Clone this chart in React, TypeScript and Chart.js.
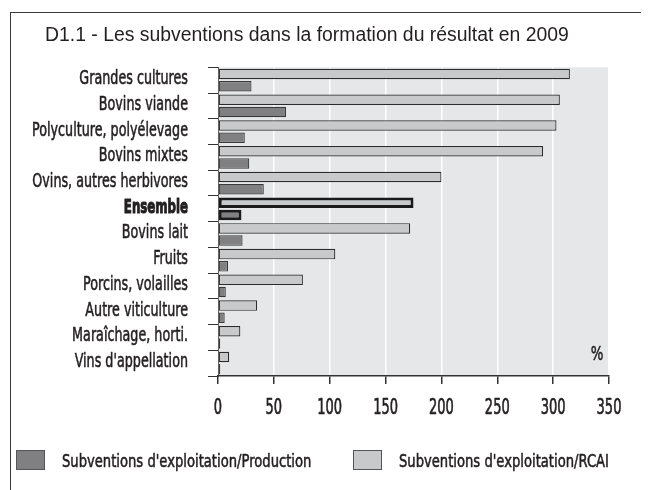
import React, { useEffect, useRef } from "react";
import { Chart, registerables } from "chart.js";

Chart.register(...registerables);

const TITLE = "D1.1 - Les subventions dans la formation du résultat en 2009";
const categories = [
  "Grandes cultures",
  "Bovins viande",
  "Polyculture, polyélevage",
  "Bovins mixtes",
  "Ovins, autres herbivores",
  "Ensemble",
  "Bovins lait",
  "Fruits",
  "Porcins, volailles",
  "Autre viticulture",
  "Maraîchage, horti.",
  "Vins d'appellation",
];
const highlighted = "Ensemble";
const rcai = [315, 306, 303, 291, 200, 175, 172, 105, 76, 35, 20, 10];
const production = [30, 61, 24, 28, 41, 21, 22, 9, 7, 6, 2, 2];
const xTicks = [0, 50, 100, 150, 200, 250, 300, 350];
const seriesNames = [
  "Subventions d'exploitation/RCAI",
  "Subventions d'exploitation/Production",
];
const seriesColors = ["#c8c9cb", "#808083"];
const unitLabel = "%";

const SANS = '"Liberation Sans", Arial, sans-serif';
const LABEL = '"DejaVu Sans", sans-serif';
const TEXT = "#231f20";

function condensedText(
  ctx: CanvasRenderingContext2D,
  text: string,
  x: number,
  y: number,
  font: string,
  sx: number,
  align: CanvasTextAlign,
  baseline: CanvasTextBaseline,
  weight = 0.5
) {
  ctx.save();
  ctx.translate(x, y);
  ctx.scale(sx, 1);
  ctx.font = font;
  ctx.fillStyle = TEXT;
  ctx.strokeStyle = TEXT;
  ctx.lineWidth = weight;
  ctx.lineJoin = "round";
  ctx.textAlign = align;
  ctx.textBaseline = baseline;
  ctx.fillText(text, 0, 0);
  if (weight > 0) ctx.strokeText(text, 0, 0);
  ctx.restore();
}

const plotBg = {
  id: "plotBg",
  beforeDraw(chart: any) {
    const { ctx, chartArea } = chart;
    ctx.save();
    ctx.fillStyle = "#e6e7e9";
    ctx.fillRect(chartArea.left, chartArea.top, chartArea.right - chartArea.left, chartArea.bottom - chartArea.top);
    ctx.restore();
  },
};

const texts = {
  id: "texts",
  afterDraw(chart: any) {
    const { ctx, chartArea } = chart;
    const yScale = chart.scales.y;
    const xScale = chart.scales.x;
    // category labels
    chart.data.labels.forEach((lab: string, i: number) => {
      const y = yScale.getPixelForValue(i);
      const bold = lab === highlighted;
      condensedText(ctx, lab, yScale.right - 30, y - 1, `${bold ? "bold " : ""}19px ${LABEL}`, bold ? 0.62 : 0.67, "right", "middle", bold ? 1.1 : 0.6);
    });
    // x tick labels
    xTicks.forEach((v) => {
      const x = xScale.getPixelForValue(v);
      condensedText(ctx, String(v), x, xScale.top + 38, `21px ${LABEL}`, 0.62, "center", "alphabetic", 0.7);
    });
    // unit label
    condensedText(ctx, unitLabel, chartArea.right - 12, chartArea.bottom - 21, `19px ${LABEL}`, 0.7, "center", "middle", 0.5);
    // legend (production first)
    const order = [1, 0];
    const xs = [8, 345];
    const y = 442;
    order.forEach((di, i) => {
      const ds = chart.data.datasets[di];
      const x = xs[i];
      ctx.save();
      ctx.fillStyle = ds.backgroundColor;
      ctx.fillRect(x, y, 29, 20);
      ctx.strokeStyle = "#555";
      ctx.lineWidth = 1;
      ctx.strokeRect(x + 0.5, y + 0.5, 28, 19);
      ctx.restore();
      condensedText(ctx, ds.label, x + 46, y + 12, `18px ${LABEL}`, 0.73, "left", "middle", 0.6);
    });
  },
};

export default function App() {
  const ref = useRef<HTMLCanvasElement>(null);
  useEffect(() => {
    if (!ref.current) return;
    const hi = categories.indexOf(highlighted);
    const chart = new Chart(ref.current, {
      type: "bar",
      data: {
        labels: categories,
        datasets: [
          {
            label: seriesNames[0],
            data: rcai,
            backgroundColor: seriesColors[0],
            borderColor: categories.map((_, i) => (i === hi ? "#1a1a1a" : "#2b2b2b")),
            borderWidth: categories.map((_, i) => (i === hi ? 3 : 1.2)),
            borderSkipped: false,
            categoryPercentage: 0.95,
            barPercentage: 0.86,
          } as any,
          {
            label: seriesNames[1],
            data: production,
            backgroundColor: seriesColors[1],
            borderColor: categories.map((_, i) => (i === hi ? "#1a1a1a" : "#3a3a3a")),
            borderWidth: categories.map((_, i) => (i === hi ? 3 : 1.2)),
            borderSkipped: false,
            categoryPercentage: 0.95,
            barPercentage: 0.86,
          } as any,
        ],
      },
      options: {
        indexAxis: "y",
        animation: false,
        responsive: false,
        devicePixelRatio: 1,
        layout: { padding: { left: 37, right: 40, top: 0, bottom: 69 } },
        plugins: {
          legend: { display: false },
          tooltip: { enabled: false },
          title: {
            display: true,
            text: TITLE,
            align: "start",
            color: TEXT,
            font: { family: SANS, size: 19.4, weight: "normal" },
            padding: { top: 16, bottom: 20 },
          },
        },
        scales: {
          y: {
            afterFit: (scale: any) => {
              scale.width = 173;
            },
            grid: {
              display: true,
              drawOnChartArea: false,
              drawTicks: true,
              tickLength: 10,
              color: "#333",
              offset: true,
            },
            border: { display: true, color: "#666", width: 1 },
            ticks: { display: false, autoSkip: false },
          },
          x: {
            min: 0,
            max: 350,
            afterFit: (scale: any) => {
              scale.height = 45;
            },
            afterBuildTicks: (scale: any) => {
              scale.ticks = xTicks.map((v) => ({ value: v }));
            },
            grid: {
              color: (ctx: any) => (ctx.tick && ctx.tick.value === 0 ? "rgba(0,0,0,0)" : "#ffffff"),
              lineWidth: 1.5,
              tickColor: "#333",
              tickLength: 8,
              drawTicks: true,
            },
            border: { display: true, color: "#333", width: 1.5 },
            ticks: { display: false },
          },
        },
      } as any,
      plugins: [plotBg, texts],
    });
    return () => chart.destroy();
  }, []);

  return (
    <div style={{ position: "relative", width: 641, height: 482, overflow: "hidden" }}>
      <div
        style={{
          position: "absolute",
          left: 2,
          top: 4,
          width: 700,
          height: 600,
          border: "1px solid #3a3a3a",
        }}
      />
      <canvas
        ref={ref}
        width={641}
        height={482}
        style={{ position: "absolute", left: 0, top: 0, width: 641, height: 482 }}
      />
    </div>
  );
}
